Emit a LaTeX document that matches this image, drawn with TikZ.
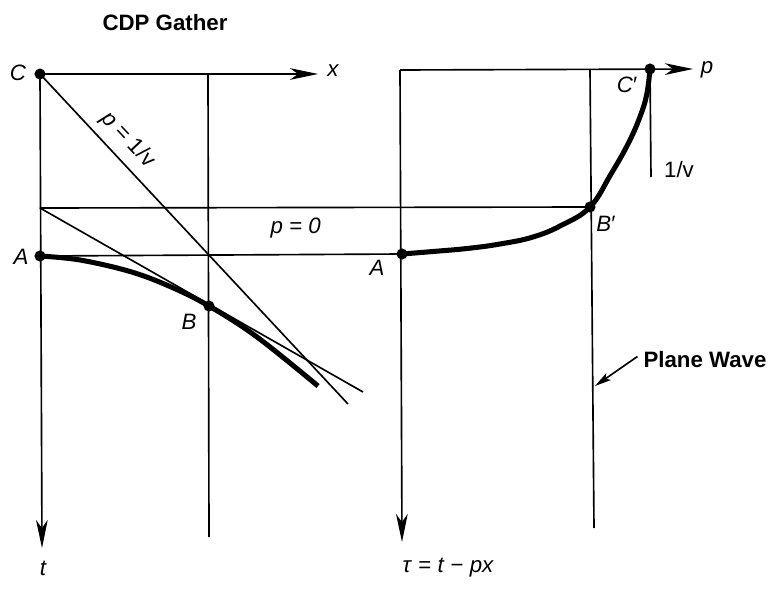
\documentclass[tikz,border=0pt]{standalone}
\usepackage{fontspec}
\setmainfont{Liberation Sans}
\usetikzlibrary{arrows.meta}

\tikzset{
  axis/.style={line width=1.4pt, -{Stealth[length=24pt, width=10pt, inset=7pt]}},
  thinline/.style={line width=1.4pt},
  wave/.style={line width=4.3pt},
  dot/.style={circle, fill, inner sep=0pt, minimum size=9.5pt},
  lbl/.style={font=\fontsize{19}{22}\selectfont\itshape, inner sep=1pt},
  rlbl/.style={font=\fontsize{19}{22}\selectfont, inner sep=1pt},
  title/.style={font=\fontsize{19}{22}\selectfont\bfseries, inner sep=1pt}
}

\begin{document}
\begin{tikzpicture}[x=0.03cm, y=-0.03cm]
\useasboundingbox (0,0) rectangle (779,591);

% CDP gather
\node[title] (gather) at (165,23) {CDP Gather};
\coordinate (C) at (40,74);
\coordinate (xtip) at (318,74);
\coordinate (ttip) at (42,548);
\coordinate (D) at (40,208);
\coordinate (A) at (40,256);
\coordinate (Mtop) at (208,74);
\coordinate (Mbot) at (209,537);
\coordinate (B) at (209,306);
\coordinate (Vend) at (348,404);
\coordinate (Tend) at (363,392);

\draw[axis] (C) -- (xtip);
\draw[axis] (C) -- (ttip);
\draw[thinline] (Mtop) -- (Mbot);
\draw[thinline] (D) -- (Tend);
\draw[thinline] (C) -- (Vend)
  node[lbl, pos=0.24, sloped, above=6pt] {p = \textup{1/v}};
% hyperbola
\draw[wave] plot[smooth, tension=0.6] coordinates
  {(A) (80,260) (130,271.5) (170,286.5) (B) (257,337) (318,386)};

% plane wave section
\coordinate (Rtop) at (400,70);
\coordinate (ptip) at (693,69);
\coordinate (tautip) at (402,542);
\coordinate (Ap) at (402,254);
\coordinate (Bp) at (590,207);
\coordinate (Cp) at (650,69);
\coordinate (Ntop) at (590,70);
\coordinate (Nbot) at (594,528);
\coordinate (tick) at (651,177);

\draw[axis] (Rtop) -- (ptip);
\draw[axis] (Rtop) -- (tautip);
\draw[thinline] (Ntop) -- (Nbot);
\draw[thinline] (Cp) -- (tick);
\draw[wave] plot[smooth, tension=0.7] coordinates
  {(Ap) (433,251.5) (467,248.5) (500,244) (533,237) (562,225) (Bp)
   (611,174) (629,142) (641,114) (647,93) (Cp)};

% linking lines
\draw[thinline] (D) -- (Bp) node[lbl, pos=0.465, below=7pt] {p = 0};
\draw[thinline] (A) -- (Ap);

% dots
\foreach \p in {C, A, B, Ap, Bp, Cp}
  \node[dot] at (\p) {};

% labels
\node[lbl] (labC) at (18,73) {C};
\node[lbl] (labx) at (333,71) {x};
\node[lbl] (labA) at (21,257) {A};
\node[lbl] (labB) at (189,322) {B};
\node[lbl] (labt) at (43,568) {t};
\node[lbl] (labAp) at (377,268) {A};
\node[lbl] (labp) at (707,70) {p};
\node[lbl] (labCp) at (627,85) {C\textup{′}};
\node[rlbl] (labv) at (679,170) {1/v};
\node[lbl] (labBp) at (606,224) {B\textup{′}};
\node[lbl] (labtau) at (448,568) {τ \textup{=} t \textup{−} px};

\node[title] (plane) at (705,360) {Plane Wave};
\coordinate (Nhit) at (595,386);
\draw[line width=1.4pt, -{Stealth[length=14pt, width=7pt, inset=3pt]}]
  (plane.west) ++(-4pt,3pt) -- (Nhit);
\end{tikzpicture}
\end{document}
